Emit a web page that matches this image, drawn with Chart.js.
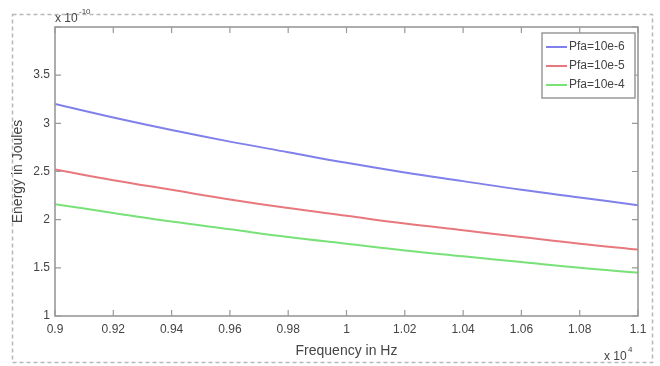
<!DOCTYPE html>
<html><head><meta charset="utf-8">
<script src="https://cdn.jsdelivr.net/npm/chart.js@4"></script>
<style>html,body{margin:0;padding:0;background:#fff}#wrap{width:660px;height:366px}</style>
</head><body><div id="wrap"><canvas id="c" width="660" height="366"></canvas></div>
<script>
const frequencies = [0.90, 0.92, 0.94, 0.96, 0.98, 1.00, 1.02, 1.04, 1.06, 1.08, 1.10];
const energyPfa6 = [3.20, 3.06, 2.93, 2.81, 2.70, 2.59, 2.49, 2.40, 2.31, 2.23, 2.15];
const energyPfa5 = [2.52, 2.41, 2.31, 2.21, 2.12, 2.04, 1.96, 1.89, 1.82, 1.75, 1.69];
const energyPfa4 = [2.16, 2.07, 1.98, 1.90, 1.82, 1.75, 1.68, 1.62, 1.56, 1.50, 1.45];
const seriesLabels = ['Pfa=10e-6', 'Pfa=10e-5', 'Pfa=10e-4'];
const xTicks = [0.9, 0.92, 0.94, 0.96, 0.98, 1, 1.02, 1.04, 1.06, 1.08, 1.1];
const yTicks = [1, 1.5, 2, 2.5, 3, 3.5, 4];

const colors = ['rgb(128,128,235)', 'rgb(232,120,125)', 'rgb(120,225,120)'];
const pts = arr => frequencies.map((f, i) => ({x: f, y: arr[i]}));
const FONT = "'Liberation Sans', Arial, sans-serif";

const decor = {
  id: 'decor',
  beforeDraw(chart) {
    const ctx = chart.ctx;
    ctx.save();
    ctx.fillStyle = '#fff';
    ctx.fillRect(0, 0, chart.width, chart.height);
    ctx.strokeStyle = '#b8b8b8';
    ctx.lineWidth = 1.5;
    ctx.setLineDash([4, 3]);
    ctx.strokeRect(12.5, 14.5, 640, 348);
    ctx.restore();
  },
  afterDatasetsDraw(chart) {
    const ctx = chart.ctx, a = chart.chartArea;
    const xs = chart.scales.x, ys = chart.scales.y;
    ctx.save();
    ctx.strokeStyle = '#999';
    ctx.lineWidth = 1.6;
    ctx.strokeRect(a.left, a.top, a.right - a.left, a.bottom - a.top);
    ctx.lineWidth = 1.2;
    ctx.beginPath();
    xTicks.forEach(v => {
      const p = xs.getPixelForValue(v);
      ctx.moveTo(p, a.bottom); ctx.lineTo(p, a.bottom - 6);
      ctx.moveTo(p, a.top); ctx.lineTo(p, a.top + 6);
    });
    yTicks.forEach(v => {
      const p = ys.getPixelForValue(v);
      ctx.moveTo(a.left, p); ctx.lineTo(a.left + 6, p);
      ctx.moveTo(a.right, p); ctx.lineTo(a.right - 6, p);
    });
    ctx.stroke();

    // exponent labels
    ctx.fillStyle = '#444';
    ctx.font = '12px ' + FONT;
    ctx.textBaseline = 'alphabetic';
    ctx.textAlign = 'left';
    ctx.fillText('x 10', 55, 22);
    ctx.font = '8px ' + FONT;
    ctx.fillText('-10', 79, 14);
    ctx.font = '12px ' + FONT;
    ctx.fillText('x 10', 604, 360);
    ctx.font = '8px ' + FONT;
    ctx.fillText('4', 628, 352);

    // legend
    const lx = 542, ly = 33, lw = 93, lh = 65;
    ctx.fillStyle = '#fff';
    ctx.fillRect(lx, ly, lw, lh);
    ctx.strokeStyle = '#999';
    ctx.lineWidth = 1.5;
    ctx.strokeRect(lx, ly, lw, lh);
    ctx.font = '12px ' + FONT;
    ctx.textBaseline = 'middle';
    chart.data.datasets.forEach((ds, i) => {
      const y = 47 + i * 19;
      ctx.strokeStyle = ds.borderColor;
      ctx.lineWidth = 2;
      ctx.beginPath(); ctx.moveTo(546, y); ctx.lineTo(567, y); ctx.stroke();
      ctx.fillStyle = '#444';
      ctx.fillText(ds.label, 569, y);
    });
    ctx.restore();
  }
};

new Chart(document.getElementById('c'), {
  type: 'line',
  data: {
    datasets: [
      {label: seriesLabels[0], data: pts(energyPfa6), borderColor: colors[0]},
      {label: seriesLabels[1], data: pts(energyPfa5), borderColor: colors[1]},
      {label: seriesLabels[2], data: pts(energyPfa4), borderColor: colors[2]}
    ].map(d => Object.assign(d, {borderWidth: 2, pointRadius: 0, tension: 0.4, fill: false}))
  },
  options: {
    responsive: false,
    animation: false,
    layout: {padding: {left: 0, right: 22, top: 27, bottom: 0}},
    plugins: {legend: {display: false}, tooltip: {enabled: false}},
    scales: {
      x: {
        type: 'linear', min: 0.9, max: 1.1,
        afterBuildTicks: s => { s.ticks = xTicks.map(v => ({value: v})); },
        afterFit: s => { s.height = 50; },
        grid: {display: false, drawTicks: false},
        border: {display: false},
        ticks: {padding: 6, color: '#444', font: {family: FONT, size: 12}, maxRotation: 0,
          callback: v => String(Math.round(v * 100) / 100)},
        title: {display: true, text: 'Frequency in Hz', color: '#444', font: {family: FONT, size: 14}, padding: {top: 2, bottom: 6}}
      },
      y: {
        type: 'linear', min: 1, max: 4,
        afterBuildTicks: s => { s.ticks = yTicks.map(v => ({value: v})); },
        afterFit: s => { s.width = 55; },
        grid: {display: false, drawTicks: false},
        border: {display: false},
        ticks: {padding: 5, color: '#444', font: {family: FONT, size: 12},
          callback: v => v === 4 ? '' : String(v)},
        title: {display: true, text: 'Energy in Joules', color: '#444', font: {family: FONT, size: 14}, padding: {top: 10, bottom: 0}}
      }
    }
  },
  plugins: [decor]
});
</script></body></html>
